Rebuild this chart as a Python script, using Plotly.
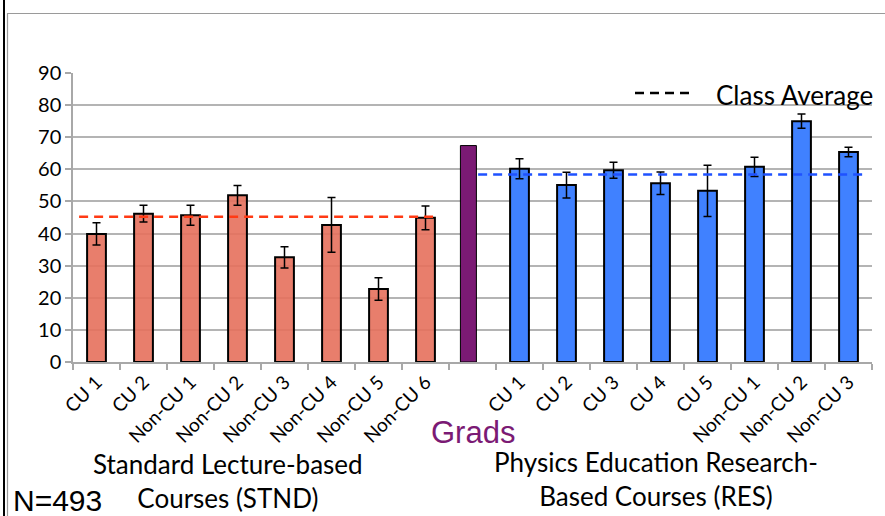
import plotly.graph_objects as go

# ---- data ----
stnd_labels = ["CU 1", "CU 2", "Non-CU 1", "Non-CU 2", "Non-CU 3", "Non-CU 4", "Non-CU 5", "Non-CU 6"]
stnd_values = [39.9, 46.2, 45.7, 51.9, 32.6, 42.7, 22.7, 44.9]
stnd_errors = [3.5, 2.6, 3.1, 3.1, 3.3, 8.5, 3.5, 3.7]
stnd_average = 45.2

grads_value = 67.4

res_labels = ["CU 1", "CU 2", "CU 3", "CU 4", "CU 5", "Non-CU 1", "Non-CU 2", "Non-CU 3"]
res_values = [60.2, 55.1, 59.7, 55.7, 53.3, 60.8, 75.0, 65.4]
res_errors = [3.1, 4.0, 2.5, 3.5, 8.0, 3.0, 2.2, 1.5]
res_average = 58.4

y_ticks = [0, 10, 20, 30, 40, 50, 60, 70, 80, 90]

# ---- layout constants ----
W, H = 885, 516
ML, MR, MT, MB = 73, 13, 73, 154
PW, PH = W - ML - MR, H - MT - MB


def px_x(p):
    return (p - ML) / PW


def px_y(p):
    return (H - MB - p) / PH


n_s = len(stnd_labels)
stnd_x = list(range(n_s))
grads_x = n_s
res_x = [n_s + 1 + i for i in range(len(res_labels))]
all_x = stnd_x + [grads_x] + res_x
all_ticktext = stnd_labels + [""] + res_labels

fig = go.Figure()

fig.add_trace(go.Bar(
    x=stnd_x, y=stnd_values, width=0.40,
    marker=dict(color="rgba(230,112,92,0.9)", line=dict(color="black", width=2)),
    error_y=dict(type="data", array=stnd_errors, color="black", thickness=1.5, width=4),
    showlegend=False, hoverinfo="skip",
))
fig.add_trace(go.Bar(
    x=[grads_x], y=[grads_value], width=0.34, offset=-0.257,
    marker=dict(color="#7B1A74", line=dict(color="black", width=1)),
    showlegend=False, hoverinfo="skip",
))
fig.add_trace(go.Bar(
    x=res_x, y=res_values, width=0.40,
    marker=dict(color="#4081FF", line=dict(color="black", width=2)),
    error_y=dict(type="data", array=res_errors, color="black", thickness=1.5, width=4),
    showlegend=False, hoverinfo="skip",
))

# class average lines
fig.add_shape(type="line", xref="x", yref="y",
              x0=stnd_x[0] - 0.37, x1=stnd_x[-1] + 0.16, y0=stnd_average, y1=stnd_average,
              line=dict(color="#FF3A14", width=2.5, dash="9px,6px"))
fig.add_shape(type="line", xref="x", yref="y",
              x0=res_x[0] - 0.88, x1=res_x[-1] + 0.41, y0=res_average, y1=res_average,
              line=dict(color="#1F52FF", width=2.5, dash="9px,6px"))

# legend-like key
fig.add_shape(type="line", xref="paper", yref="paper",
              x0=px_x(635), x1=px_x(690), y0=px_y(93), y1=px_y(93),
              line=dict(color="black", width=2.5, dash="9px,6px"))
fig.add_annotation(text="Class Average", xref="paper", yref="paper",
                   x=px_x(714), y=px_y(95), xanchor="left", yanchor="middle",
                   showarrow=False, font=dict(family="Lato", size=26, color="black"))

# frame lines
fig.add_shape(type="line", xref="paper", yref="paper",
              x0=px_x(4), x1=px_x(4), y0=px_y(0), y1=px_y(H),
              line=dict(color="black", width=2))
fig.add_shape(type="line", xref="paper", yref="paper",
              x0=px_x(7), x1=px_x(W), y0=px_y(13.5), y1=px_y(13.5),
              line=dict(color="#9a9a9a", width=1.2))
fig.add_shape(type="line", xref="paper", yref="paper",
              x0=px_x(7.5), x1=px_x(7.5), y0=px_y(13.5), y1=px_y(H),
              line=dict(color="#9a9a9a", width=1.2))

# group labels
fig.add_annotation(text="Grads", xref="x", yref="paper", x=grads_x, y=px_y(432),
                   xanchor="center", yanchor="middle", showarrow=False,
                   font=dict(family="Arial", size=31, color="#7B1A74"))
fig.add_annotation(text="Standard Lecture-based<br>Courses (STND)", xref="paper", yref="paper",
                   x=px_x(228), y=px_y(481), xanchor="center", yanchor="middle", showarrow=False,
                   font=dict(family="Lato", size=26, color="black"))
fig.add_annotation(text="Physics Education Research-<br>Based Courses (RES)", xref="paper", yref="paper",
                   x=px_x(656), y=px_y(479), xanchor="center", yanchor="middle", showarrow=False,
                   font=dict(family="Lato", size=26, color="black"))
fig.add_annotation(text="N=493", xref="paper", yref="paper",
                   x=px_x(11), y=px_y(482), xanchor="left", yanchor="top", showarrow=False,
                   font=dict(family="Arial", size=30, color="black"))

fig.update_layout(
    width=W, height=H,
    margin=dict(l=ML, r=MR, t=MT, b=MB, pad=0),
    paper_bgcolor="white", plot_bgcolor="white",
    bargap=0.6,
    xaxis=dict(
        range=[-0.5, len(all_x) - 0.5],
        tickmode="array", tickvals=all_x, ticktext=all_ticktext,
        tickangle=-45, ticks="", showgrid=False, zeroline=False,
        showline=True, linecolor="#a8a8a8", linewidth=1.5,
        tickfont=dict(family="Lato", size=19, color="black"),
        minor=dict(ticks="outside", tick0=-0.5, dtick=1, ticklen=6, tickcolor="#a8a8a8", tickwidth=1.5, showgrid=False),
        fixedrange=True,
    ),
    yaxis=dict(
        range=[0, 90], tickmode="array", tickvals=y_ticks,
        ticks="outside", ticklen=6, tickcolor="#a8a8a8", tickwidth=1.5,
        showgrid=True, gridcolor="#b4b4b4", gridwidth=1.5, zeroline=False,
        showline=True, linecolor="#a8a8a8", linewidth=1.5,
        tickfont=dict(family="Lato", size=20, color="black"),
        fixedrange=True,
    ),
)

fig.write_html("out.html")
